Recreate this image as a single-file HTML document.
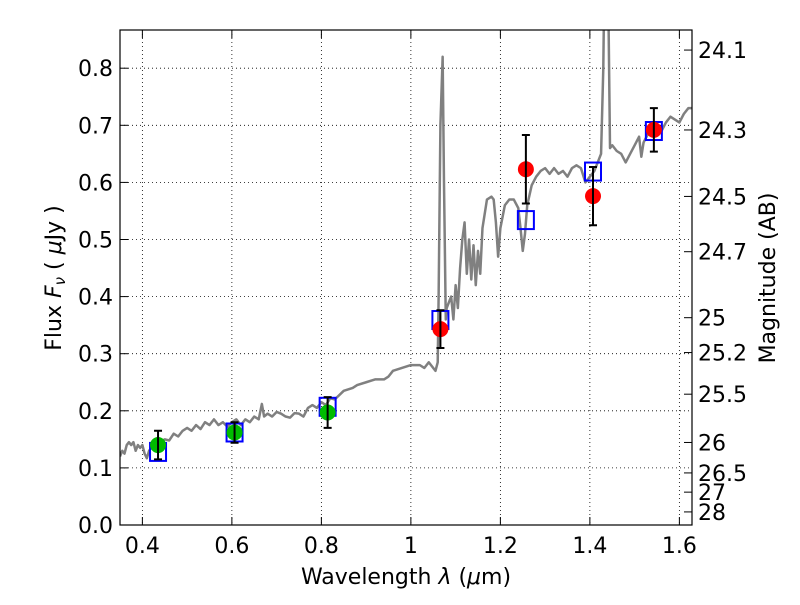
<!DOCTYPE html>
<html><head><meta charset="utf-8"><style>
body{margin:0;background:#fff}
svg text{font-family:"DejaVu Sans","Liberation Sans",sans-serif;font-size:22px;fill:#000}
</style></head><body>
<svg id="chart" width="800" height="600" xmlns="http://www.w3.org/2000/svg">
<defs><clipPath id="clip"><rect x="120" y="30" width="572" height="495"/></clipPath></defs>
<g id="grid"></g>
<g id="spec" clip-path="url(#clip)"></g>
<g id="marks"></g>
<rect x="120" y="30" width="572" height="495" fill="none" stroke="#000" stroke-width="1.2"/>
<g id="axes"></g>
<text x="406" y="584" text-anchor="middle">Wavelength  <tspan font-style="italic">λ</tspan> (<tspan font-style="italic">μ</tspan>m)</text>
<text transform="translate(61,278) rotate(-90)" text-anchor="middle">Flux  <tspan font-style="italic">F<tspan font-size="15" dy="4">ν</tspan></tspan><tspan dy="-4">  ( </tspan><tspan font-style="italic">μ</tspan>Jy )</text>
<text transform="translate(775,278) rotate(-90)" text-anchor="middle">Magnitude (AB)</text>
</svg>
<script>
const specW=[0.35,0.355,0.36,0.365,0.37,0.375,0.38,0.385,0.39,0.395,0.40,0.405,0.41,0.415,0.42,0.43,0.44,0.45,0.46,0.47,0.48,0.49,0.50,0.51,0.52,0.53,0.54,0.55,0.56,0.57,0.58,0.59,0.60,0.61,0.62,0.63,0.64,0.65,0.66,0.667,0.672,0.68,0.69,0.70,0.71,0.72,0.73,0.74,0.75,0.76,0.77,0.78,0.79,0.80,0.81,0.82,0.83,0.85,0.87,0.88,0.90,0.92,0.94,0.95,0.96,0.98,1.00,1.02,1.03,1.04,1.05,1.055,1.06,1.062,1.066,1.071,1.074,1.078,1.08,1.09,1.095,1.10,1.105,1.11,1.115,1.12,1.125,1.13,1.135,1.14,1.145,1.15,1.155,1.16,1.17,1.18,1.185,1.19,1.195,1.20,1.21,1.22,1.23,1.24,1.245,1.25,1.255,1.26,1.27,1.28,1.29,1.30,1.31,1.32,1.33,1.34,1.35,1.36,1.37,1.38,1.39,1.40,1.41,1.42,1.425,1.430,1.433,1.440,1.445,1.45,1.46,1.47,1.48,1.49,1.50,1.51,1.515,1.52,1.53,1.54,1.55,1.56,1.57,1.58,1.59,1.60,1.61,1.62,1.63];
const specF=[0.12,0.13,0.125,0.14,0.145,0.14,0.145,0.13,0.14,0.135,0.14,0.125,0.117,0.13,0.135,0.14,0.145,0.15,0.148,0.16,0.155,0.165,0.17,0.165,0.175,0.168,0.18,0.175,0.185,0.175,0.18,0.172,0.18,0.185,0.175,0.185,0.18,0.19,0.185,0.212,0.19,0.195,0.19,0.198,0.195,0.19,0.188,0.196,0.195,0.19,0.205,0.21,0.205,0.215,0.21,0.222,0.22,0.235,0.24,0.245,0.25,0.255,0.255,0.26,0.27,0.275,0.28,0.28,0.275,0.285,0.275,0.27,0.285,0.4,0.7,0.82,0.6,0.36,0.38,0.40,0.36,0.42,0.38,0.45,0.50,0.53,0.44,0.50,0.43,0.49,0.42,0.48,0.44,0.52,0.57,0.575,0.57,0.53,0.47,0.52,0.56,0.57,0.57,0.555,0.52,0.48,0.51,0.56,0.595,0.61,0.62,0.625,0.615,0.625,0.615,0.62,0.61,0.625,0.63,0.625,0.60,0.61,0.62,0.64,0.65,0.8,1.0,1.0,0.66,0.665,0.655,0.65,0.635,0.65,0.665,0.68,0.645,0.67,0.685,0.69,0.69,0.69,0.705,0.715,0.71,0.705,0.72,0.73,0.73];
const bandW=[0.435,0.606,0.814,1.066,1.257,1.407,1.543];
const obsF=[0.140,0.162,0.197,0.343,0.623,0.576,0.692];
const obsErr=[0.025,0.018,0.027,0.033,0.060,0.051,0.038];
const modelF=[0.128,0.162,0.207,0.359,0.534,0.619,0.690];
const xTicks=[0.4,0.6,0.8,1.0,1.2,1.4,1.6];
const xTickLabels=["0.4","0.6","0.8","1","1.2","1.4","1.6"];
const yTicks=[0,0.1,0.2,0.3,0.4,0.5,0.6,0.7,0.8];
const magTicks=[24.1,24.3,24.5,24.7,25,25.2,25.5,26,26.5,27,28];

const X=w=>120+(w-0.35)*447.5, Y=f=>525-f*571;
const NS="http://www.w3.org/2000/svg";
function mk(tag,attrs,parent){const e=document.createElementNS(NS,tag);for(const k in attrs)e.setAttribute(k,attrs[k]);parent.appendChild(e);return e;}
const grid=document.getElementById('grid'),axes=document.getElementById('axes'),spec=document.getElementById('spec'),marks=document.getElementById('marks');
xTicks.forEach((t,i)=>{
 const g=mk('line',{x1:X(t),x2:X(t),y1:30,y2:525,stroke:'#000','stroke-width':0.8,'stroke-dasharray':'1,3'},grid);
 
 mk('line',{x1:X(t),x2:X(t),y1:525,y2:517,stroke:'#000'},axes);
 mk('line',{x1:X(t),x2:X(t),y1:30,y2:38,stroke:'#000'},axes);
 const tx=mk('text',{x:X(t),y:553,'text-anchor':'middle'},axes);tx.textContent=xTickLabels[i];
 
});
yTicks.forEach(t=>{
 const g=mk('line',{x1:120,x2:692,y1:Y(t),y2:Y(t),stroke:'#000','stroke-width':0.8,'stroke-dasharray':'1,3'},grid);
 
 mk('line',{x1:120,x2:128,y1:Y(t),y2:Y(t),stroke:'#000'},axes);
 const tx=mk('text',{x:113,y:Y(t)+8,'text-anchor':'end'},axes);tx.textContent=t.toFixed(1);
 
});
magTicks.forEach(m=>{
 const f=Math.pow(10,(23.9-m)/2.5);
 mk('line',{x1:684,x2:692,y1:Y(f),y2:Y(f),stroke:'#000'},axes);
 const tx=mk('text',{x:698,y:Y(f)+8},axes);tx.textContent=String(m);
 
});
const p=mk('polyline',{points:specW.map((w,i)=>X(w)+','+Y(specF[i])).join(' '),fill:'none',stroke:'#808080','stroke-width':2.5,'stroke-linejoin':'round'},spec);

bandW.forEach((w,i)=>{
 const s=mk('rect',{x:X(w)-8,y:Y(modelF[i])-9,width:16,height:18,fill:'none',stroke:'#0000ff','stroke-width':2},marks);
 
 const c=mk('circle',{cx:X(w),cy:Y(obsF[i]),r:8,fill:i<3?'#00bb00':'#ff0000'},marks);
 
 const y1=Y(obsF[i]+obsErr[i]),y2=Y(obsF[i]-obsErr[i]),x=X(w);
 const e=mk('path',{d:`M${x},${y1}V${y2}M${x-4},${y1}H${x+4}M${x-4},${y2}H${x+4}`,stroke:'#000','stroke-width':2,fill:'none'},marks);
 
});
</script>
</body></html>
